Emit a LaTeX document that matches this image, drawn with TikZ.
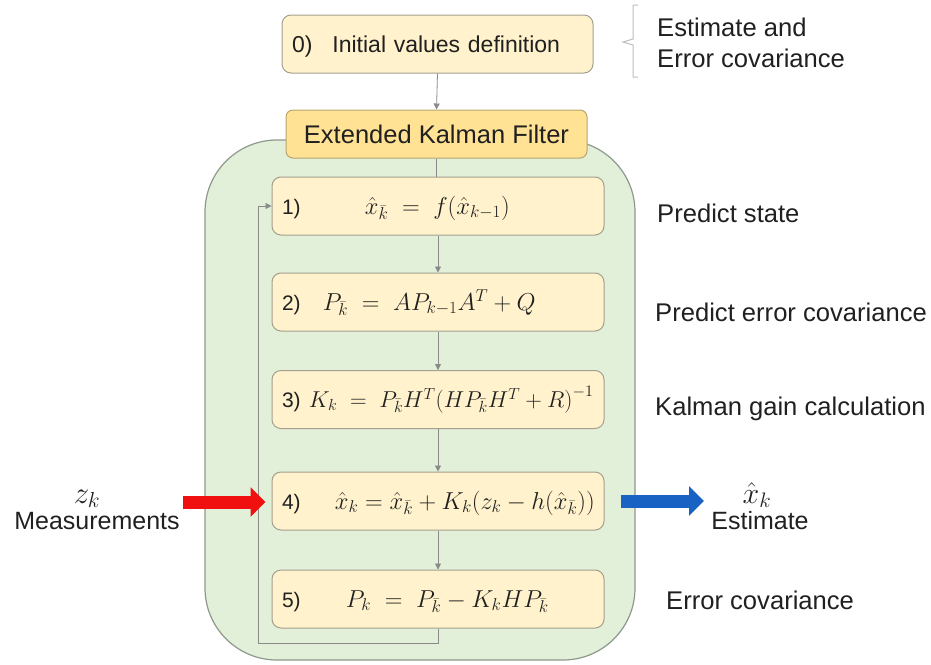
\RequirePackage{fix-cm}
\documentclass[tikz,border=0pt]{standalone}
\usepackage{fontspec}
\setmainfont{Liberation Sans}
\usetikzlibrary{arrows.meta}

\definecolor{boxfill}{HTML}{FFF2CC}
\definecolor{boxline}{HTML}{A49F8E}
\definecolor{titlefill}{HTML}{FFE294}
\definecolor{titleline}{HTML}{B8A66E}
\definecolor{greenfill}{HTML}{E2EFD9}
\definecolor{greenline}{HTML}{8F988B}
\definecolor{connline}{HTML}{8A8A8A}
\definecolor{bracketline}{HTML}{BDBDBD}
\definecolor{txt}{HTML}{202020}
\definecolor{inarrow}{HTML}{F01010}
\definecolor{outarrow}{HTML}{1762C2}

\newcommand{\eqsize}{\fontsize{24.5}{28}\selectfont}
\newcommand{\eqsmall}{\fontsize{23}{28}\selectfont}

\tikzset{
  roundbox/.style={draw=boxline, fill=boxfill, line width=1pt, rounded corners=9pt,
    minimum height=58pt, inner ysep=0pt, inner xsep=10pt, align=left,
    text height=19pt, text depth=3pt},
  stepbox/.style={roundbox, minimum width=332pt, text width=312pt,
    font=\fontsize{21}{24}\selectfont},
  sidelabel/.style={font=\fontsize{25.6}{30}\selectfont, inner sep=0pt, anchor=base west},
  conn/.style={draw=connline, line width=0.8pt, -{Triangle[length=6pt,width=6pt]}},
  bigarrow/.style={line width=13pt, -{Triangle[length=15pt,width=29pt]}},
}

\begin{document}
\begin{tikzpicture}[x=1pt, y=-1pt, text=txt]
\useasboundingbox (0,0) rectangle (931,664);

% green frame of the filter loop
\node[draw=greenline, fill=greenfill, line width=1.2pt, rounded corners=72pt,
      minimum width=430pt, minimum height=520pt] (ekfbg) at (420,400) {};

% initialisation
\node[roundbox, minimum width=311pt, text width=291pt,
      font=\fontsize{23}{28}\selectfont] (b0) at (437.5,44)
  {0)\hspace{20pt}Initial values definition};

% title tab
\node[draw=titleline, fill=titlefill, line width=1pt, rounded corners=7pt,
      minimum width=301pt, minimum height=48pt, inner sep=0pt,
      font=\fontsize{25.5}{30}\selectfont] (title) at (436.5,134) {Extended Kalman Filter};

% the five filter steps
\node[stepbox] (b1) at (438,206)
  {\mbox{1)\hspace{64.3pt}{\eqsize$\hat{x}_{\bar{k}} \;=\; f(\hat{x}_{k-1})$}}};
\node[stepbox] (b2) at (438,302)
  {\mbox{2)\hspace{22.3pt}{\eqsize$P_{\bar{k}} \;=\; AP_{k-1}A^{T} + Q$}}};
\node[stepbox] (b3) at (438,399.5)
  {\mbox{3)\hspace{8.3pt}{\eqsmall$K_k \;=\; P_{\bar{k}}H^{T}\bigl(HP_{\bar{k}}H^{T} + R\bigr)^{-1}$}}};
\node[stepbox] (b4) at (438,501)
  {\mbox{4)\hspace{34.3pt}{\eqsize$\hat{x}_k = \hat{x}_{\bar{k}} + K_k(z_k - h(\hat{x}_{\bar{k}}))$}}};
\node[stepbox] (b5) at (438,599)
  {\mbox{5)\hspace{45.3pt}{\eqsize$P_k \;=\; P_{\bar{k}} - K_kHP_{\bar{k}}$}}};

% flow between the boxes
\draw[conn] (b0.south) -- (title.north);
\draw[draw=connline, line width=0.8pt] (title.south) -- (title.south |- b1.north);
\draw[conn] (b1.south) -- (b2.north);
\draw[conn] (b2.south) -- (b3.north);
\draw[conn] (b3.south) -- (b4.north);
\draw[conn] (b4.south) -- (b5.north);

% feedback loop back to the prediction
\coordinate (loopbl) at (258,643);
\draw[conn] (b5.south) |- (loopbl) |- (b1.west);

% side labels
\node[sidelabel] (l0a) at (657,36) {Estimate and};
\node[sidelabel] (l0b) at (657,67) {Error covariance};
\node[sidelabel] (l1) at (657,222) {Predict state};
\node[sidelabel] (l2) at (655,321) {Predict error covariance};
\node[sidelabel] (l3) at (655,415) {Kalman gain calculation};
\node[sidelabel] (l5) at (666,609) {Error covariance};

% bracket next to the initial values
\coordinate (brt) at (638,5);
\coordinate (brb) at (638,77);
\coordinate (brm) at (623,42);
\draw[bracketline, line width=1pt] (brt) -- (633,5) -- (633,39) -- (brm) -- (633,45) -- (633,77) -- (brb);

% measurement input
\node[inner sep=0pt, anchor=base, font=\fontsize{31}{34}\selectfont] (zk) at (87,503) {$z_k$};
\node[sidelabel, font=\fontsize{25}{30}\selectfont, anchor=base] (meas) at (97,529) {Measurements};
\coordinate (inStart) at (183,502);
\draw[bigarrow, inarrow, shorten >=6pt] (inStart) -- (b4.west |- inStart);

% estimate output
\coordinate (outEnd) at (704,501);
\draw[bigarrow, outarrow, shorten <=16pt] (b4.east) -- (outEnd);
\node[inner sep=0pt, anchor=base, font=\fontsize{30}{34}\selectfont] (xk) at (757,503) {$\hat{x}_k$};
\node[sidelabel, font=\fontsize{25}{30}\selectfont, anchor=base] (est) at (760,529) {Estimate};
\end{tikzpicture}
\end{document}
